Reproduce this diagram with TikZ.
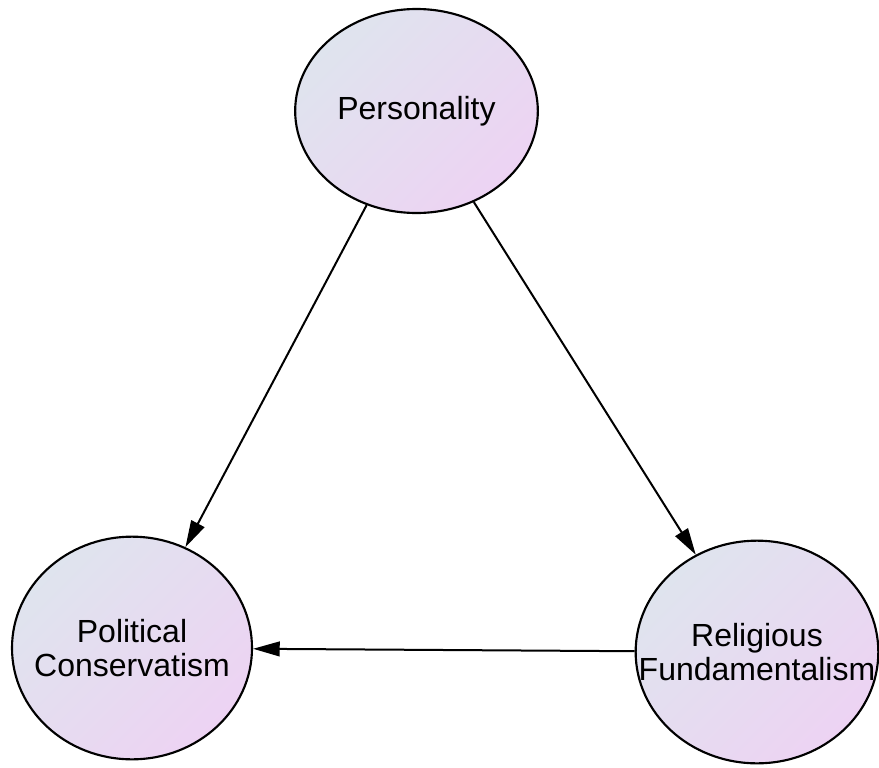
\documentclass[tikz,border=0pt]{standalone}
\usepackage{fontspec}
\setmainfont{Liberation Sans}
\usetikzlibrary{shapes.geometric,arrows.meta}

\definecolor{shadeTL}{RGB}{223,228,238}
\definecolor{shadeBR}{RGB}{237,211,243}

\tikzset{
  construct/.style={ellipse, draw=black, line width=1.6pt, inner sep=0pt,
    top color=shadeTL, bottom color=shadeBR, shading angle=45,
    align=center, font=\fontsize{24}{25}\selectfont},
  path/.style={line width=1.5pt, -{Triangle[length=20pt,width=11pt]}}
}

\begin{document}
\begin{tikzpicture}[x=0.75pt,y=0.75pt,yscale=-1,xscale=1]
		\useasboundingbox (0,0) rectangle (879,768);
		
		% constructs
		\node [construct, minimum width=182pt, minimum height=153pt] (pers) at (416.5,111) {Personality};
		\node [construct, inner xsep=-40pt, minimum width=180pt, minimum height=167pt] (polcon) at (132,648) {Political\\Conservatism};
		\node [construct, inner xsep=-40pt, minimum width=182pt, minimum height=167pt] (relfun) at (757,652) {Religious\\Fundamentalism};
		
		% paths
		\draw [path] (pers) -- (polcon);
		\draw [path] (pers) -- (relfun);
		\draw [path] (relfun) -- (polcon);
		
\end{tikzpicture}
\end{document}
